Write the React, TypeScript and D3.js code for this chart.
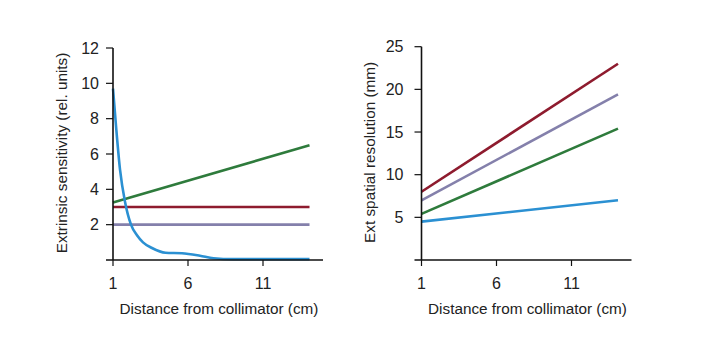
import React from "react";
import * as d3 from "d3";

const xTicks = [1, 6, 11];
const leftYTicks = [2, 4, 6, 8, 10, 12];
const rightYTicks = [5, 10, 15, 20, 25];

// Left panel: extrinsic sensitivity
const sensGreenX = [1, 14.1];
const sensGreenY = [3.25, 6.5];
const sensRedX = [1, 14.1];
const sensRedY = [3, 3];
const sensPurpleX = [1, 14.1];
const sensPurpleY = [2, 2];
const sensBlueX = [1, 1.2, 1.47, 1.8, 2.2, 2.6, 3.0, 3.6, 4.5, 5.6, 6.8, 7.7, 9, 14.1];
const sensBlueY = [9.7, 7.6, 5.1, 3.3, 2.0, 1.4, 1.0, 0.68, 0.41, 0.38, 0.24, 0.1, 0.05, 0.05];

// Right panel: extrinsic spatial resolution
const resRedX = [1, 14.1];
const resRedY = [8, 23];
const resPurpleX = [1, 14.1];
const resPurpleY = [7, 19.4];
const resGreenX = [1, 14.1];
const resGreenY = [5.4, 15.4];
const resBlueX = [1, 14.1];
const resBlueY = [4.5, 7];

const RED = "#8e1b2e";
const PURPLE = "#8480ab";
const GREEN = "#2e7b3c";
const BLUE = "#2b90d2";
const TEXT = "#222";
const AXIS = "#111";
const FONT = "'Liberation Sans', Arial, sans-serif";

type Series = { xs: number[]; ys: number[]; color: string; smooth?: boolean };

function Panel(props: {
  x0: number;
  x1: number;
  yTop: number;
  yBottom: number;
  yMax: number;
  yTicks: number[];
  yTitle: string;
  yTitleX: number;
  labelGap: number;
  series: Series[];
}) {
  const { x0, x1, yTop, yBottom, yMax, yTicks, yTitle, yTitleX, labelGap, series } = props;
  const x = d3.scaleLinear().domain([1, 15]).range([x0, x1]);
  const y = d3.scaleLinear().domain([0, yMax]).range([yBottom, yTop]);
  const tick = 7;
  return (
    <g>
      {series.map((s, i) => {
        const pts: [number, number][] = s.xs.map((v, j) => [v, s.ys[j]]);
        const line = d3
          .line<[number, number]>()
          .x((d) => x(d[0]))
          .y((d) => y(d[1]))
          .curve(s.smooth ? d3.curveMonotoneX : d3.curveLinear);
        return (
          <path key={i} d={line(pts) || ""} fill="none" stroke={s.color} strokeWidth={2.6} strokeLinecap="butt" />
        );
      })}
      {/* y axis */}
      <line x1={x0} x2={x0} y1={y(yMax)} y2={yBottom} stroke={AXIS} strokeWidth={1.6} />
      {/* x axis, including the y=0 tick to the left */}
      <line x1={x0 - tick} x2={x1} y1={yBottom} y2={yBottom} stroke={AXIS} strokeWidth={1.6} />
      {yTicks.map((t) => (
        <g key={t}>
          <line x1={x0 - tick} x2={x0} y1={y(t)} y2={y(t)} stroke={AXIS} strokeWidth={1.2} />
          <text
            x={x0 - labelGap}
            y={y(t)}
            textAnchor="end"
            dominantBaseline="central"
            fontSize={16}
            fill={TEXT}
            fontFamily={FONT}
          >
            {t}
          </text>
        </g>
      ))}
      {xTicks.map((t) => (
        <g key={t}>
          <line x1={x(t)} x2={x(t)} y1={yBottom} y2={yBottom + 6} stroke={AXIS} strokeWidth={1.2} />
          <text
            x={x(t)}
            y={yBottom + 23.5}
            textAnchor="middle"
            dominantBaseline="central"
            fontSize={16}
            fill={TEXT}
            fontFamily={FONT}
          >
            {t}
          </text>
        </g>
      ))}
      <text
        x={(x0 + x1) / 2 + 1}
        y={yBottom + 48.5}
        textAnchor="middle"
        dominantBaseline="central"
        fontSize={15.3}
        fill={TEXT}
        fontFamily={FONT}
      >
        Distance from collimator (cm)
      </text>
      <text
        transform={`translate(${yTitleX},${(yTop + yBottom) / 2 - 1}) rotate(-90)`}
        textAnchor="middle"
        dominantBaseline="central"
        fontSize={15.3}
        fill={TEXT}
        fontFamily={FONT}
      >
        {yTitle}
      </text>
    </g>
  );
}

export default function App() {
  return (
    <svg
      width={703}
      height={337}
      style={{ position: "absolute", left: 0, top: 0, background: "#fff" }}
    >
      <rect width={703} height={337} fill="#fff" />
      <Panel
        x0={113}
        x1={323}
        yTop={48}
        yBottom={260}
        yMax={12}
        yTicks={leftYTicks}
        yTitle="Extrinsic sensitivity (rel. units)"
        yTitleX={61}
        labelGap={14}
        series={[
          { xs: sensGreenX, ys: sensGreenY, color: GREEN },
          { xs: sensRedX, ys: sensRedY, color: RED },
          { xs: sensPurpleX, ys: sensPurpleY, color: PURPLE },
          { xs: sensBlueX, ys: sensBlueY, color: BLUE, smooth: true },
        ]}
      />
      <Panel
        x0={421.5}
        x1={631.5}
        yTop={46.7}
        yBottom={260}
        yMax={25}
        yTicks={rightYTicks}
        yTitle="Ext spatial resolution (mm)"
        yTitleX={369}
        labelGap={18}
        series={[
          { xs: resRedX, ys: resRedY, color: RED },
          { xs: resPurpleX, ys: resPurpleY, color: PURPLE },
          { xs: resGreenX, ys: resGreenY, color: GREEN },
          { xs: resBlueX, ys: resBlueY, color: BLUE },
        ]}
      />
    </svg>
  );
}
